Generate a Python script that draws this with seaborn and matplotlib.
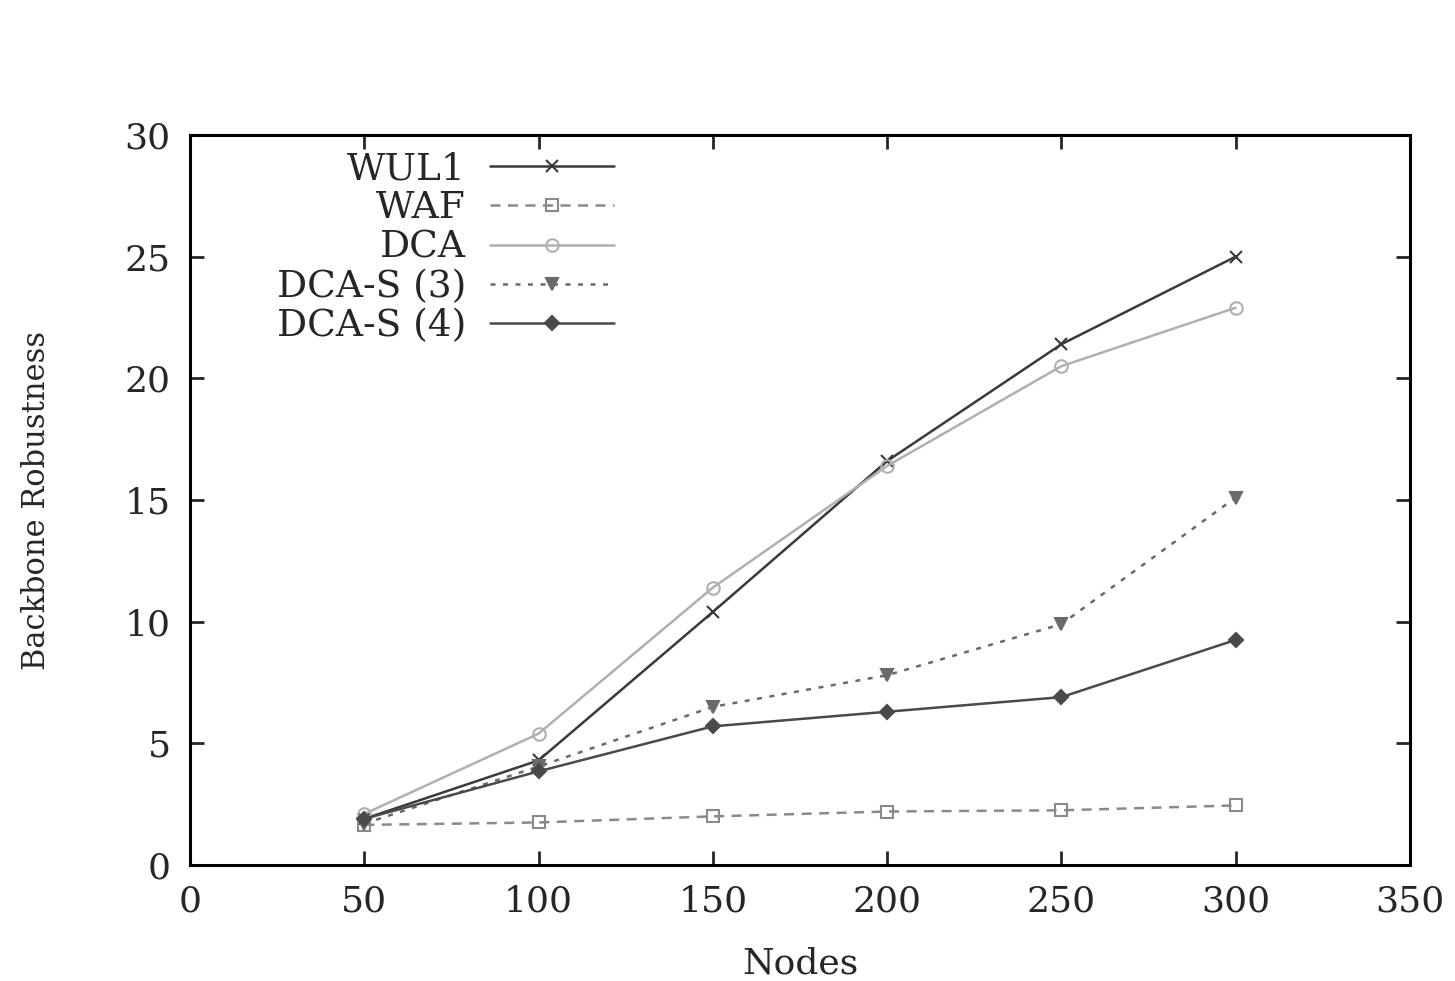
import pandas as pd
import matplotlib.pyplot as plt
import seaborn as sns

# valores
nodes = [50, 100, 150, 200, 250, 300]
wul1 = [1.9, 4.3, 10.4, 16.6, 21.4, 25.0]
waf = [1.65, 1.75, 2.0, 2.2, 2.25, 2.45]
dca = [2.1, 5.4, 11.4, 16.4, 20.5, 22.9]
dca_s3 = [1.7, 4.05, 6.5, 7.8, 9.9, 15.1]
dca_s4 = [1.9, 3.85, 5.7, 6.3, 6.9, 9.25]

series = [
    ("WUL1", wul1, "#3a3a3a", "x", "-", 9),
    ("WAF", waf, "#8a8a8a", "s", (0, (4, 3)), 8),
    ("DCA", dca, "#b0b0b0", "o", "-", 9),
    ("DCA-S (3)", dca_s3, "#6a6a6a", "v", (0, (2, 3)), 8),
    ("DCA-S (4)", dca_s4, "#4a4a4a", "D", "-", 7),
]

sns.set_style("ticks")
plt.rcParams['font.family'] = ['DejaVu Serif']

fig = plt.figure(figsize=(14.55, 9.81), dpi=100)
ax = fig.add_axes([0.1306, 0.1182, 0.8384, 0.7442])

for nome, vals, cor, mk, ls, ms in series:
    df = pd.DataFrame({"Nodes": nodes, "y": vals})
    sns.lineplot(data=df, x="Nodes", y="y", ax=ax, color=cor, marker=mk,
                 linestyle=ls, linewidth=1.8, markersize=ms,
                 markerfacecolor="none" if mk in ("s", "o") else cor,
                 markeredgecolor=cor, markeredgewidth=1.5, label=nome)

ax.set_xlim(0, 350)
ax.set_ylim(0, 30)
ax.set_xticks(range(0, 351, 50))
ax.set_yticks(range(0, 31, 5))
ax.set_xlabel("Nodes", fontsize=26, labelpad=20)
ax.set_ylabel("Backbone Robustness", fontsize=22, labelpad=52)
ax.tick_params(direction="in", length=10, width=2, labelsize=26,
               top=True, right=True, pad=14)
for s in ax.spines.values():
    s.set_linewidth(2.2)
    s.set_color("black")

ax.legend(loc="upper left", bbox_to_anchor=(0.071, 0.978), frameon=False,
          markerfirst=False, fontsize=27, handlelength=3.3,
          handletextpad=0.65, labelspacing=0.09, borderaxespad=0,
          borderpad=0)

fig.savefig("out.png", dpi=100)
plt.close(fig)
